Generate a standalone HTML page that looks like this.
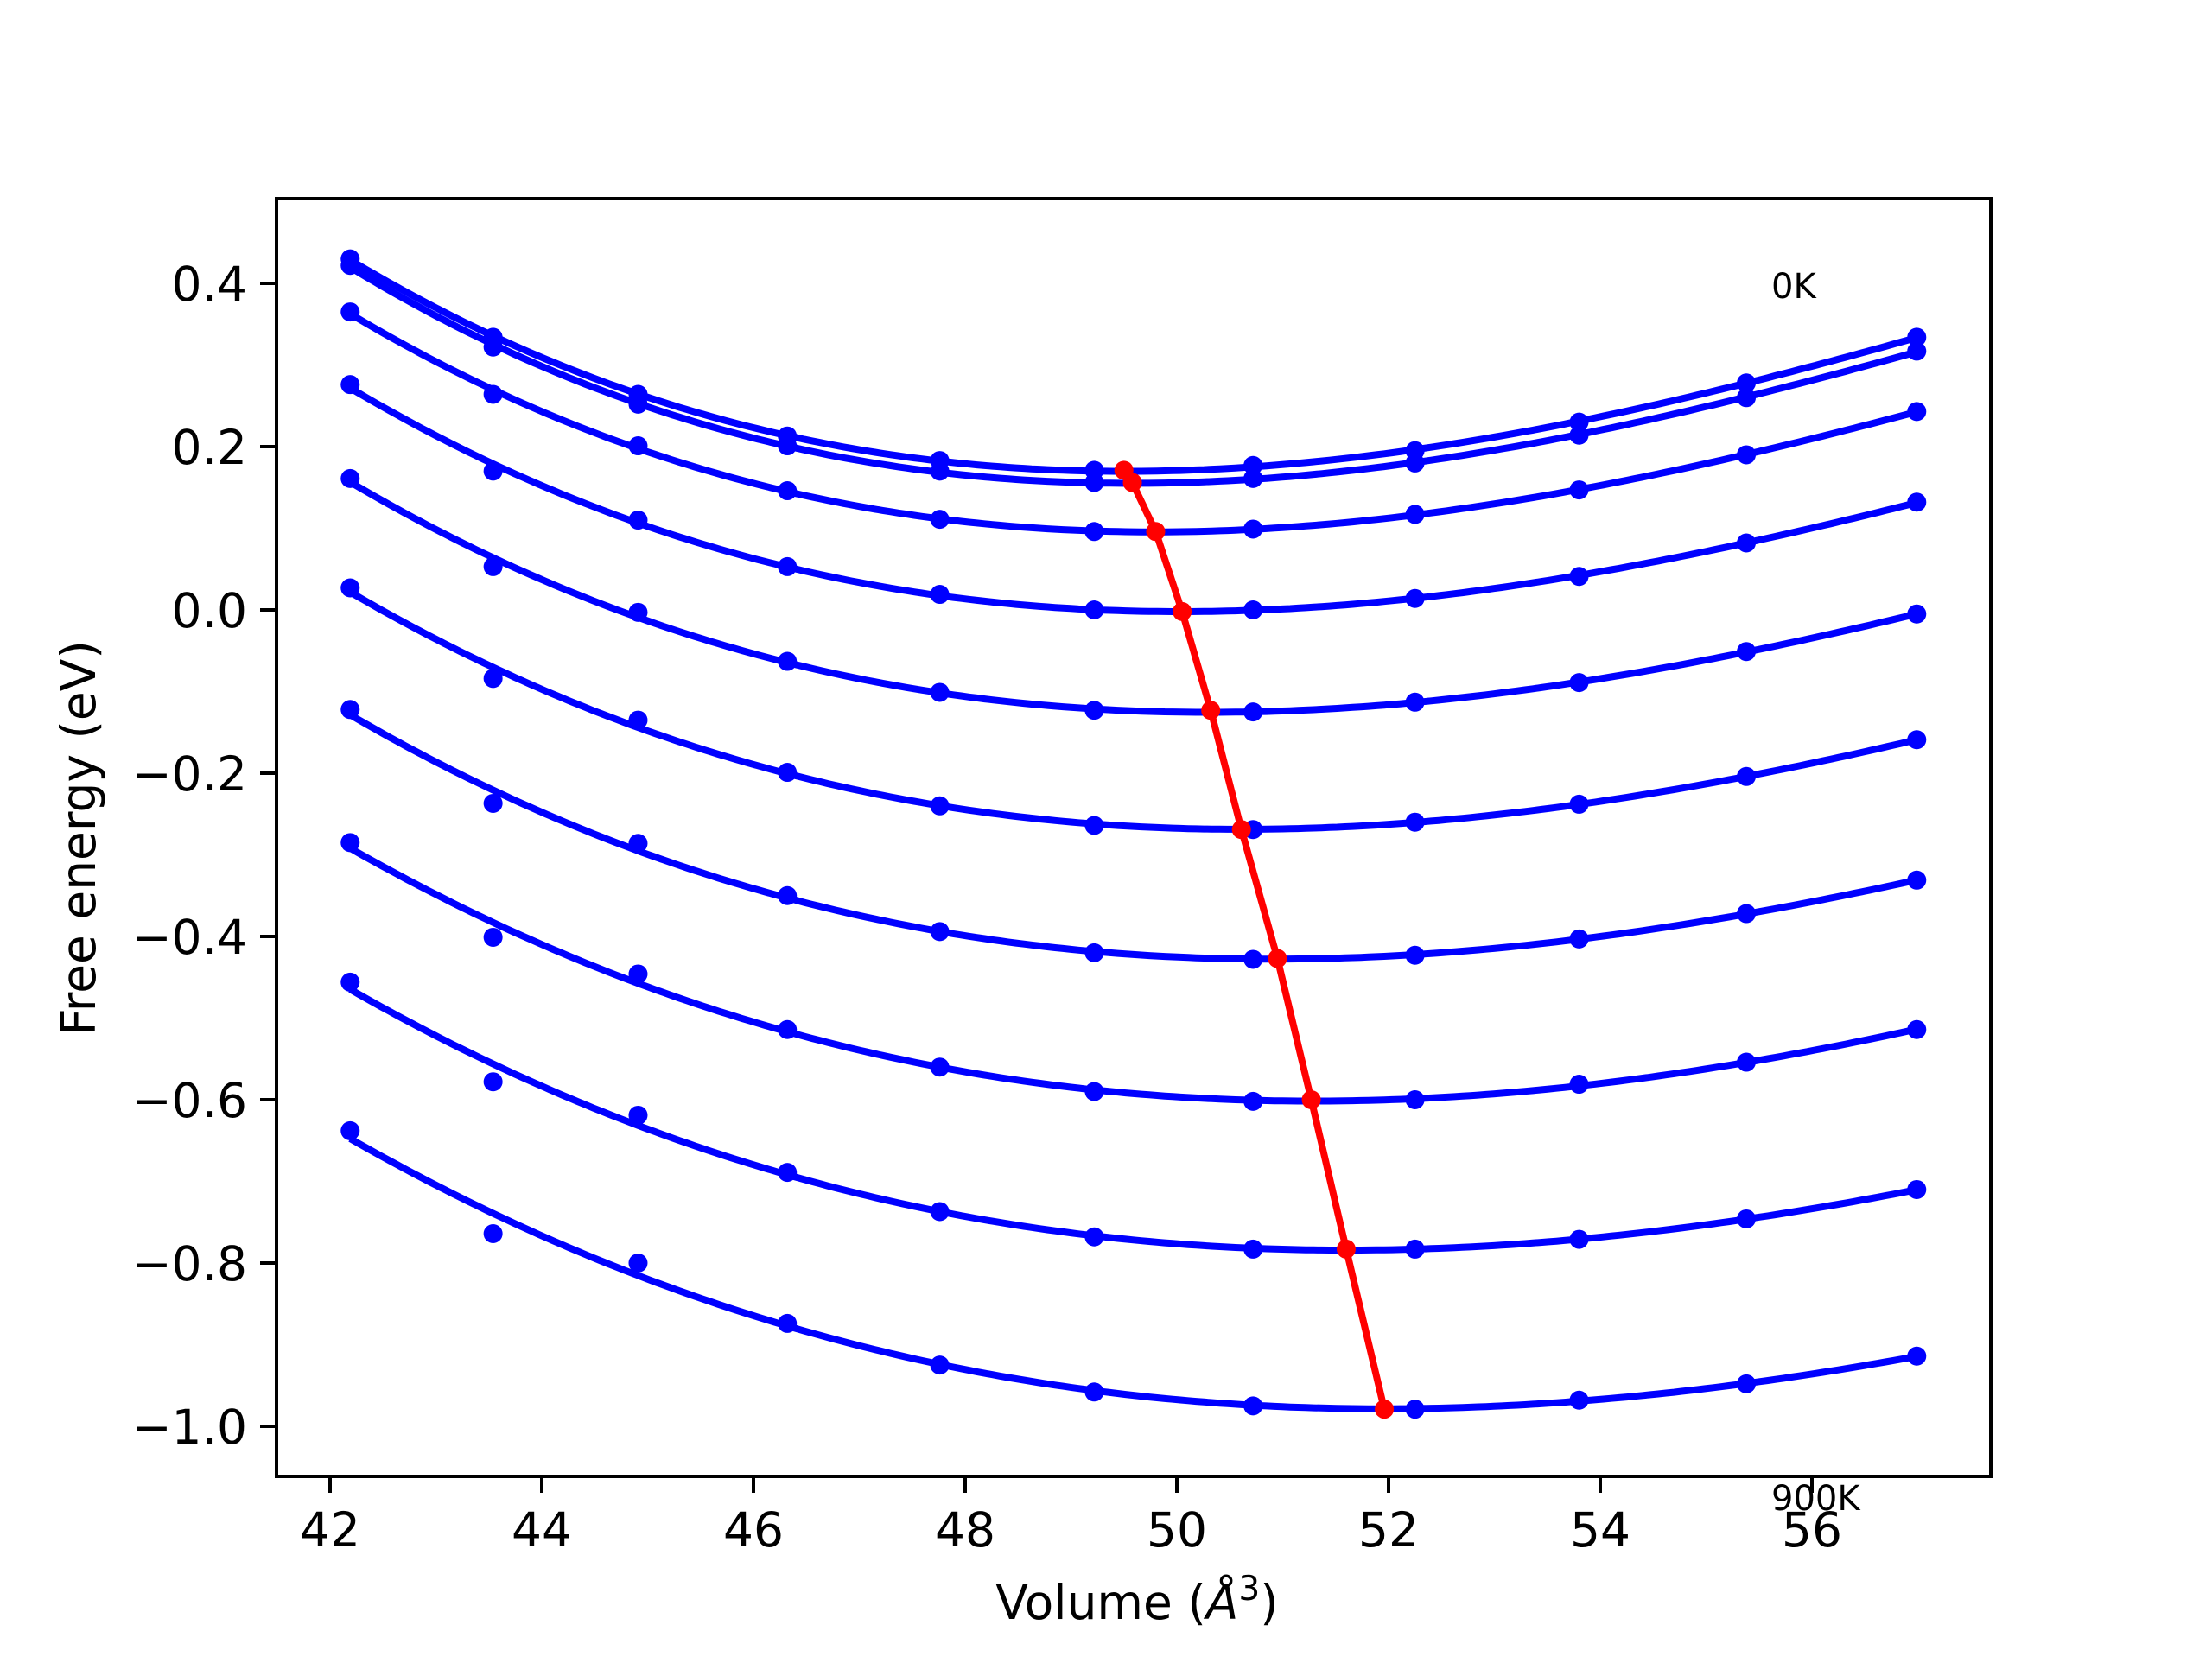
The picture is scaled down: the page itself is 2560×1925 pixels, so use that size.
<!DOCTYPE html>
<html><head><meta charset="utf-8"><style>
html,body{margin:0;padding:0;background:#fff}
svg text{font-family:"DejaVu Sans","Liberation Sans",sans-serif}
</style></head><body>
<svg id="chart" width="2560" height="1920" viewBox="0 0 2560 1920" xmlns="http://www.w3.org/2000/svg">
<rect x="0" y="0" width="2560" height="1920" fill="#fff"/>
<g id="plot"></g>
<rect x="320" y="230" width="1984" height="1479" fill="none" stroke="#000" stroke-width="4"/>
<g id="axes"></g>
<text x="2050" y="345" font-size="40">0K</text>
<text x="2050" y="1748" font-size="40">900K</text>
<text x="1316" y="1874" font-size="55" text-anchor="middle">Volume (<tspan font-style="italic">Å</tspan><tspan font-size="39" dy="-22">3</tspan><tspan dy="22">)</tspan></text>
<text transform="translate(110,970) rotate(-90)" font-size="55" text-anchor="middle">Free energy (eV)</text>
</svg>
<script>
const volumes = [42.19, 43.54, 44.91, 46.32, 47.76, 49.22, 50.72, 52.25, 53.80, 55.38, 56.99];
const energies0 = [0.430, 0.334, 0.264, 0.213, 0.183, 0.171, 0.177, 0.195, 0.230, 0.278, 0.334];
const energies1 = [0.422, 0.322, 0.252, 0.201, 0.170, 0.156, 0.161, 0.180, 0.214, 0.260, 0.317];
const energies2 = [0.365, 0.264, 0.201, 0.146, 0.111, 0.096, 0.099, 0.117, 0.147, 0.190, 0.243];
const energies3 = [0.276, 0.170, 0.110, 0.053, 0.019, 0.000, 0.000, 0.014, 0.041, 0.082, 0.132];
const energies4 = [0.161, 0.053, -0.003, -0.063, -0.101, -0.123, -0.125, -0.113, -0.089, -0.051, -0.005];
const energies5 = [0.027, -0.084, -0.135, -0.199, -0.240, -0.264, -0.269, -0.260, -0.238, -0.204, -0.159];
const energies6 = [-0.122, -0.237, -0.286, -0.350, -0.394, -0.420, -0.428, -0.423, -0.403, -0.372, -0.331];
const energies7 = [-0.285, -0.401, -0.446, -0.514, -0.560, -0.590, -0.602, -0.600, -0.581, -0.554, -0.514];
const energies8 = [-0.456, -0.578, -0.619, -0.689, -0.737, -0.768, -0.783, -0.783, -0.771, -0.746, -0.710];
const energies9 = [-0.638, -0.764, -0.800, -0.874, -0.925, -0.958, -0.975, -0.979, -0.968, -0.948, -0.914];
const minVolumes = [49.50, 49.58, 49.80, 50.05, 50.32, 50.61, 50.95, 51.27, 51.60, 51.96];
const minEnergies = [0.171, 0.156, 0.096, -0.002, -0.123, -0.269, -0.427, -0.600, -0.783, -0.979];
const xTicks = [42, 44, 46, 48, 50, 52, 54, 56];
const yTicks = [0.4, 0.2, 0.0, -0.2, -0.4, -0.6, -0.8, -1.0];
const yTickLabels = ["0.4", "0.2", "0.0", "\u22120.2", "\u22120.4", "\u22120.6", "\u22120.8", "\u22121.0"];

const NS = "http://www.w3.org/2000/svg";
const xS = v => 1362 + (v - 50) * 122.5;
const yS = e => 706 - e * 945;
const plot = document.getElementById('plot');
const axes = document.getElementById('axes');
function mk(tag, attrs, parent){const el=document.createElementNS(NS,tag);for(const k in attrs)el.setAttribute(k,attrs[k]);parent.appendChild(el);return el;}

// cubic least-squares fit
function fit(xs, ys){
  const n=4, A=[], b=[];
  for(let i=0;i<n;i++){A.push(new Array(n).fill(0));b.push(0);}
  const c=50;
  xs.forEach((x,k)=>{const t=x-c;const p=[1,t,t*t,t*t*t];for(let i=0;i<n;i++){b[i]+=p[i]*ys[k];for(let j=0;j<n;j++)A[i][j]+=p[i]*p[j];}});
  for(let i=0;i<n;i++){let m=i;for(let r=i+1;r<n;r++)if(Math.abs(A[r][i])>Math.abs(A[m][i]))m=r;[A[i],A[m]]=[A[m],A[i]];[b[i],b[m]]=[b[m],b[i]];
    for(let r=0;r<n;r++){if(r===i)continue;const f=A[r][i]/A[i][i];for(let j=i;j<n;j++)A[r][j]-=f*A[i][j];b[r]-=f*b[i];}}
  const co=b.map((v,i)=>v/A[i][i]);
  return x=>{const t=x-c;return co[0]+co[1]*t+co[2]*t*t+co[3]*t*t*t;};
}

const series=[energies0,energies1,energies2,energies3,energies4,energies5,energies6,energies7,energies8,energies9];
series.forEach((es,si)=>{
  const f=fit(volumes,es);
  let d='';
  const v0=volumes[0], v1=volumes[volumes.length-1];
  for(let i=0;i<=200;i++){const v=v0+(v1-v0)*i/200;d+=(i?'L':'M')+xS(v).toFixed(1)+','+yS(f(v)).toFixed(1);}
  const p=mk('path',{d:d,fill:'none',stroke:'#0000ff','stroke-width':8},plot);
  
  
  es.forEach((e,k)=>{
    const c=mk('circle',{cx:xS(volumes[k]),cy:yS(e),r:11,fill:'#0000ff'},plot);
    
    
  });
});
let rd='';
minVolumes.forEach((v,i)=>{rd+=(i?'L':'M')+xS(v)+','+yS(minEnergies[i]);});
const rl=mk('path',{d:rd,fill:'none',stroke:'#ff0000','stroke-width':8},plot);


minVolumes.forEach((v,i)=>{
  const c=mk('circle',{cx:xS(v),cy:yS(minEnergies[i]),r:11,fill:'#ff0000'},plot);
  
  
});
xTicks.forEach(t=>{
  const l=mk('line',{x1:xS(t),x2:xS(t),y1:1709,y2:1728,stroke:'#000','stroke-width':4},axes);
  
  
  const tx=mk('text',{x:xS(t),y:1790,'font-size':55,'text-anchor':'middle'},axes);
  tx.textContent=String(t);
  
  
});
yTicks.forEach((t,i)=>{
  const l=mk('line',{x1:301,x2:320,y1:yS(t),y2:yS(t),stroke:'#000','stroke-width':4},axes);
  
  
  const tx=mk('text',{x:286,y:yS(t)+20,'font-size':55,'text-anchor':'end'},axes);
  tx.textContent=yTickLabels[i];
  
  
});
</script>
</body></html>
